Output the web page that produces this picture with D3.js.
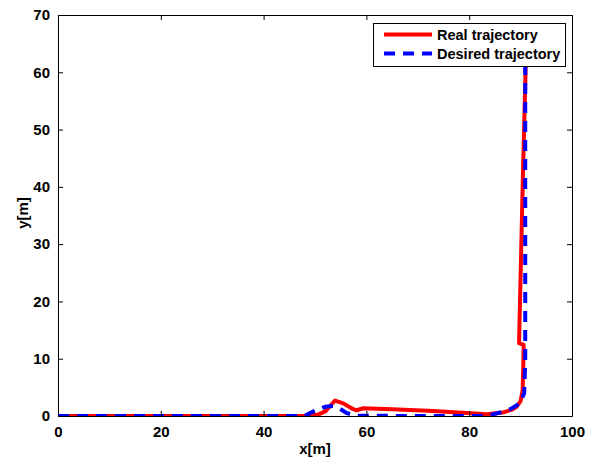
<!DOCTYPE html>
<html>
<head>
<meta charset="utf-8">
<script src="https://cdn.jsdelivr.net/npm/d3@7"></script>
<style>
  html, body { margin: 0; padding: 0; background: #fff; }
  svg { display: block; }
  text { font-family: Arial, "Liberation Sans", sans-serif; font-weight: bold; }
</style>
</head>
<body>
<svg id="chart" width="599" height="462"></svg>
<script>
// Trajectory samples (x in metres, y in metres)
const realX    = [0, 48, 50.5, 52, 53.9, 55.5, 57.2, 58.1, 59.4, 65, 72, 78, 83.4, 86.5, 88.3, 89.2, 90.0, 90.4, 90.5, 90.6, 89.7, 90.4, 91.1];
const realY    = [0, 0, 0.2, 0.8, 2.7, 2.2, 1.3, 1.0, 1.35, 1.2, 0.9, 0.6, 0.3, 0.6, 1.1, 1.6, 2.6, 4.5, 8.0, 12.4, 12.7, 40, 65];
const desiredX = [0, 48, 49, 50.5, 52, 53.5, 54.8, 56.2, 58, 70, 82, 84, 86, 88, 89.9, 90.7, 90.9, 90.9];
const desiredY = [0, 0, 0.5, 1.1, 1.6, 1.75, 1.3, 0.5, 0.05, 0, 0, 0.15, 0.6, 1.2, 2.2, 4.0, 10, 65];
const xTicks = [0, 20, 40, 60, 80, 100];
const yTicks = [0, 10, 20, 30, 40, 50, 60, 70];
const seriesNames = ["Real trajectory", "Desired trajectory"];

const svg = d3.select("#chart");
const mLeft = 58, mRight = 572, mTop = 15, mBottom = 416;

const x = d3.scaleLinear().domain([0, 100]).range([mLeft, mRight]);
const y = d3.scaleLinear().domain([0, 70]).range([mBottom, mTop]);

svg.append("clipPath").attr("id", "clip")
  .append("rect").attr("x", mLeft).attr("y", mTop).attr("width", mRight - mLeft).attr("height", mBottom - mTop);

const line = d3.line().x(d => x(d[0])).y(d => y(d[1]));

const realPts = realX.map((v, i) => [v, realY[i]]);
const desPts = desiredX.map((v, i) => [v, desiredY[i]]);

const curves = svg.append("g").attr("clip-path", "url(#clip)");
curves.append("path").datum(realPts).attr("d", line)
  .attr("fill", "none").attr("stroke", "#ff0000").attr("stroke-width", 4)
  .attr("stroke-linejoin", "round");
curves.append("path").datum(desPts).attr("d", line)
  .attr("fill", "none").attr("stroke", "#0000ff").attr("stroke-width", 4)
  .attr("stroke-dasharray", "11,8");

// Axes box with inward ticks on all four sides
const tickLen = 5;
const fontSize = "15px";
const axB = d3.axisBottom(x).tickValues(xTicks).tickSizeInner(-tickLen).tickSizeOuter(0).tickPadding(10);
const axT = d3.axisTop(x).tickValues(xTicks).tickSizeInner(-tickLen).tickSizeOuter(0).tickFormat("");
const axL = d3.axisLeft(y).tickValues(yTicks).tickSizeInner(-tickLen).tickSizeOuter(0).tickPadding(8);
const axR = d3.axisRight(y).tickValues(yTicks).tickSizeInner(-tickLen).tickSizeOuter(0).tickFormat("");

function style(g) {
  g.select(".domain").attr("stroke", "#000").attr("stroke-width", 1);
  g.selectAll(".tick line").attr("stroke", "#000").attr("stroke-width", 1);
  g.selectAll(".tick text").attr("fill", "#000").style("font-size", fontSize)
    .style("font-family", "Arial, 'Liberation Sans', sans-serif").style("font-weight", "bold");
}
svg.append("g").attr("transform", `translate(0,${mBottom})`).call(axB).call(style);
svg.append("g").attr("transform", `translate(0,${mTop})`).call(axT).call(style);
svg.append("g").attr("transform", `translate(${mLeft},0)`).call(axL).call(style);
svg.append("g").attr("transform", `translate(${mRight},0)`).call(axR).call(style);

// Axis titles
svg.append("text").attr("x", 315).attr("y", 454).attr("text-anchor", "middle")
  .style("font-size", fontSize).text("x[m]");
svg.append("text").attr("transform", "translate(28,213) rotate(-90)").attr("text-anchor", "middle")
  .style("font-size", fontSize).text("y[m]");

// Legend
const lg = svg.append("g");
lg.append("rect").attr("x", 373.5).attr("y", 23.5).attr("width", 192).attr("height", 43)
  .attr("fill", "#fff").attr("stroke", "#000").attr("stroke-width", 1);
const legendStyles = [
  { color: "#ff0000", dash: null },
  { color: "#0000ff", dash: "11,8" }
];
seriesNames.forEach((name, i) => {
  const yy = 34.5 + i * 19;
  lg.append("line").attr("x1", 384).attr("x2", 432).attr("y1", yy).attr("y2", yy)
    .attr("stroke", legendStyles[i].color).attr("stroke-width", 4)
    .attr("stroke-dasharray", legendStyles[i].dash);
  lg.append("text").attr("x", 437).attr("y", yy + 5).style("font-size", "14.5px").text(name);
});
</script>
</body>
</html>
